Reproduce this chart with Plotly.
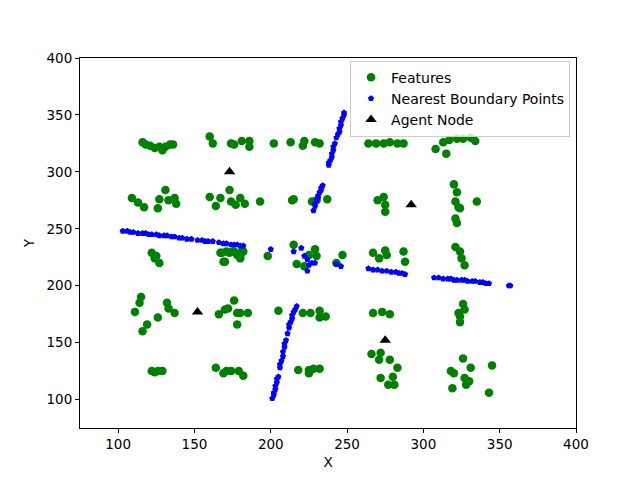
import plotly.graph_objects as go

# Features (green)
feat_x = [116,118,121,124,127,129,131,134,136,
          160,162,174,181,186,186,202,213,222,221,229,232,176,
          264,269,274,278,283,287,308,315,313,317,322,326,331,334,
          109,113,117,127,126,131,133,137,138,
          160,164,167,173,174,177,180,183,193,214,215,227,230,237,
          270,274,275,275,320,322,321,323,324,321,322,335,
          122,124,127,125,
          168,171,169,175,178,181,180,167,170,173,176,180,182,198,
          215,217,225,229,230,222,243,247,
          267,271,275,276,287,288,321,324,325,327,
          115,114,111,119,116,126,132,133,137,
          166,170,172,176,178,180,178,185,205,
          221,226,232,232,236,
          267,273,278,326,327,323,324,324,
          122,126,129,124,
          164,169,171,174,179,182,
          218,225,228,232,225,
          266,272,271,278,283,272,280,277,281,
          326,331,318,320,327,330,328,319,345,343]
feat_y = [326,324,323,321,322,319,322,324,324,
          331,325,325,327,327,322,325,326,327,323,326,325,324,
          325,325,325,326,325,325,320,316,326,328,329,329,330,327,
          277,273,269,276,268,284,275,277,272,
          278,270,277,284,274,271,277,272,274,275,276,274,275,276,
          275,278,271,265,289,282,274,269,268,259,255,274,
          229,224,220,226,
          229,230,221,230,227,230,224,229,221,229,230,226,230,226,
          236,219,227,232,226,217,220,227,
          229,224,231,227,230,221,234,230,224,218,
          190,185,177,166,160,172,185,180,176,
          175,179,180,187,176,176,166,176,178,
          176,176,178,172,173,
          176,177,175,184,179,176,168,173,
          125,125,125,124,
          128,123,125,125,125,121,
          126,126,127,127,123,
          140,141,135,135,128,119,120,113,113,
          136,128,125,123,119,116,113,110,130,106]

# Nearest boundary points (blue)
bnd_x = [103,106,108,110,113,116,118,120,122,125,127,130,132,135,137,140,142,
         145,148,152,155,157,159,162,166,169,171,174,176,178,180,182,
         200,215,220,222,224,225,224,227,229,243,246,
         264,267,270,273,276,279,282,284,286,288,
         307,310,313,316,318,320,322,325,327,329,332,334,337,339,341,343,356,357,
         201,202,202,203,203,204,204,205,206,206,207,208,208,209,209,210,211,
         212,212,213,214,214,215,216,217,
         238,238,239,240,240,241,241,242,243,244,245,245,246,246,247,248,248,
         228,229,229,230,231,231,232,233,233,234]
bnd_y = [248,248,247,247,246,246,246,245,245,245,244,244,244,243,243,242,242,
         241,241,240,240,239,239,239,238,237,237,236,236,236,235,235,
         232,230,233,226,223,218,213,220,220,219,217,
         215,214,214,213,213,212,212,211,211,210,
         207,207,206,206,206,205,205,205,205,204,204,204,203,203,202,202,200,200,
         101,104,106,109,112,115,118,120,128,131,134,138,142,146,149,152,158,
         163,166,168,171,174,177,179,182,
         306,308,310,313,316,319,322,325,330,333,335,338,341,344,347,350,352,
         266,270,272,275,277,279,282,284,286,288]

# Agent nodes
agent_x = [173, 152, 292, 275]
agent_y = [300, 177, 271, 152]

fig = go.Figure()
fig.add_trace(go.Scatter(x=feat_x, y=feat_y, mode="markers", name="Features",
                         marker=dict(color="green", size=8.5, line=dict(width=0))))
fig.add_trace(go.Scatter(x=bnd_x, y=bnd_y, mode="markers", name="Nearest Boundary Points",
                         marker=dict(color="blue", symbol="pentagon", size=6.5, line=dict(width=0))))
fig.add_trace(go.Scatter(x=agent_x, y=agent_y, mode="markers", name="Agent Node",
                         marker=dict(color="black", symbol="triangle-up", size=10, line=dict(width=0))))

axis_common = dict(showline=True, linecolor="black", linewidth=1, mirror=True,
                   ticks="outside", ticklen=4, tickcolor="black", showgrid=False,
                   zeroline=False, tickfont=dict(size=13.5, color="black"))

fig.update_layout(
    width=632, height=472,
    margin=dict(l=72, r=64, t=50, b=52),
    paper_bgcolor="white", plot_bgcolor="white",
    font=dict(family="DejaVu Sans", size=13.5, color="black"),
    xaxis=dict(range=[75, 400], tickmode="array", tickvals=[100,150,200,250,300,350,400],
               title=dict(text="X", font=dict(size=13.5), standoff=6), **axis_common),
    yaxis=dict(range=[75, 400], tickmode="array", tickvals=[100,150,200,250,300,350,400],
               title=dict(text="Y", font=dict(size=13.5), standoff=8), **axis_common),
    legend=dict(x=0.988, y=0.993, xanchor="right", yanchor="top",
                bordercolor="#cccccc", borderwidth=1, bgcolor="rgba(255,255,255,0.8)",
                font=dict(size=14), tracegroupgap=0),
    showlegend=True,
)

fig.write_html("out.html")
